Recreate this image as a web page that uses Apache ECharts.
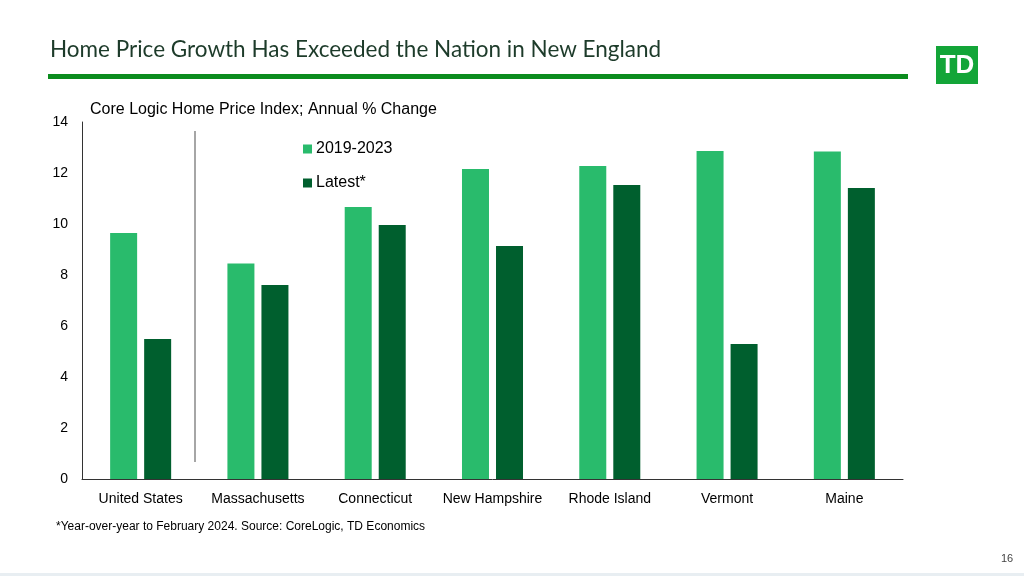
<!DOCTYPE html>
<html><head><meta charset="utf-8">
<script src="https://cdn.jsdelivr.net/npm/echarts@6/dist/echarts.min.js"></script>
<style>html,body{margin:0;padding:0;background:#fff}#c{width:1024px;height:576px}</style>
</head><body><div id="c"></div>
<script>
const categories = ['United States','Massachusetts','Connecticut','New Hampshire','Rhode Island','Vermont','Maine'];
const s2019_2023 = [9.65, 8.45, 10.67, 12.16, 12.27, 12.86, 12.84];
const latest = [5.49, 7.61, 9.96, 9.14, 11.53, 5.29, 11.41];
const yTicks = [0, 2, 4, 6, 8, 10, 12, 14];

const chart = echarts.init(document.getElementById('c'), null, {renderer:'canvas'});
chart.setOption({
  animation:false,
  backgroundColor:'#fff',
  textStyle:{fontFamily:'Liberation Sans, Arial, sans-serif'},
  grid:{left:82, right:121, top:122, bottom:97},
  legend:{
    orient:'vertical', left:298, top:136, itemGap:18,
    itemWidth:9, itemHeight:9, icon:'rect',
    textStyle:{fontSize:16, color:'#000', padding:[0,0,0,-1]},
    data:['2019-2023','Latest*']
  },
  xAxis:{
    type:'category', data:categories,
    axisLine:{lineStyle:{color:'#333', width:1}},
    axisTick:{show:false},
    axisLabel:{fontSize:14, color:'#000', margin:13, interval:0}
  },
  yAxis:{
    type:'value', min:yTicks[0], max:yTicks[yTicks.length-1], interval:2,
    axisLine:{show:true, lineStyle:{color:'#333'}},
    axisTick:{show:false},
    splitLine:{show:false},
    axisLabel:{fontSize:14, color:'#000', margin:14}
  },
  series:[
    {name:'2019-2023', type:'bar', data:s2019_2023, barWidth:27, barGap:'26%',
     itemStyle:{color:'#29bb6c'}},
    {name:'Latest*', type:'bar', data:latest, barWidth:27,
     itemStyle:{color:'#005f2e'}}
  ],
  graphic:[
    {type:'text', left:50, top:38, style:{text:'Home Price Growth Has Exceeded the Nation in New England', fontSize:22.5, fontFamily:'Lato', fill:'#1d3b2a'}},
    {type:'rect', shape:{x:48, y:74, width:860, height:5}, style:{fill:'#0b8c1e'}},
    {type:'rect', shape:{x:936, y:46, width:42, height:38}, style:{fill:'#13a538'}},
    {type:'text', x:957, y:66, style:{text:'TD', fontSize:26, fontWeight:'bold', fontFamily:'Liberation Sans Narrow, Liberation Sans', fill:'#fff', align:'center', verticalAlign:'middle'}},
    {type:'text', left:90, top:102, style:{text:'Core Logic Home Price Index; Annual % Change', fontSize:16, fill:'#000', fontFamily:'Liberation Sans'}},
    {type:'line', shape:{x1:195, y1:131, x2:195, y2:462}, style:{stroke:'#888', lineWidth:1.5}},
    {type:'text', left:56, top:521, style:{text:'*Year-over-year to February 2024. Source: CoreLogic, TD Economics', fontSize:12, fill:'#000', fontFamily:'Liberation Sans'}},
    {type:'text', left:1001, top:553, style:{text:'16', fontSize:11, fill:'#444', fontFamily:'Liberation Sans'}},
    {type:'rect', shape:{x:0, y:573, width:1024, height:3}, style:{fill:'#e8eef2'}}
  ]
});
</script></body></html>
